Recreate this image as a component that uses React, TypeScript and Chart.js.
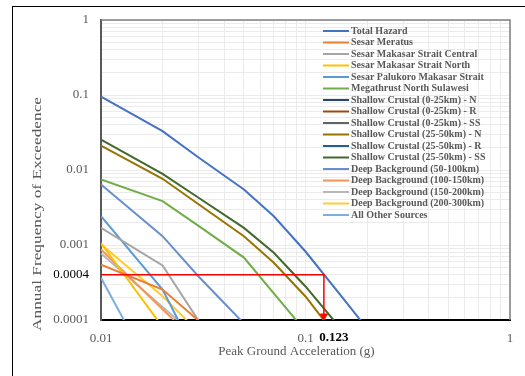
import React, { useEffect, useRef } from "react";
import { Chart, registerables } from "chart.js";

Chart.register(...registerables);

// ---- Data ----
const PGA = [0.01, 0.02, 0.03, 0.05, 0.07, 0.1, 0.15, 0.2];

const SERIES_NAMES = [
  "Total Hazard",
  "Sesar Meratus",
  "Sesar Makasar Strait Central",
  "Sesar Makasar Strait North",
  "Sesar Palukoro Makasar Strait",
  "Megathrust North Sulawesi",
  "Shallow Crustal (0-25km) - N",
  "Shallow Crustal (0-25km) - R",
  "Shallow Crustal (0-25km) - SS",
  "Shallow Crustal (25-50km) - N",
  "Shallow Crustal (25-50km) - R",
  "Shallow Crustal (25-50km) - SS",
  "Deep Background (50-100km)",
  "Deep Background (100-150km)",
  "Deep Background (150-200km)",
  "Deep Background (200-300km)",
  "All Other Sources",
];

const SERIES_COLORS = [
  "#4472C4", "#ED7D31", "#A5A5A5", "#FFC000", "#5B9BD5", "#70AD47",
  "#264478", "#9E480E", "#636363", "#997300", "#255E91", "#43682B",
  "#698ED0", "#F1975A", "#B7B7B7", "#FFCD33", "#7CAFDD",
];

const totalHazard = [0.0955, 0.0329, 0.0147, 0.0055, 0.00242, 0.000819, 0.000206, 0.000077];
const sesarMeratus = [0.000545, 0.000255, 0.000098, 0.000015];
const makasarCentral = [0.00169, 0.000533, 0.000098, 0.000012];
const makasarNorth = [0.00106, 0.0000807, 0.00001];
const palukoro = [0.00242, 0.000255, 0.0000293];
const megathrust = [0.00747, 0.00384, 0.0018, 0.00068, 0.000226, 0.0000707];
const shallow0to25N = [0.00008, 0.00002];
const shallow0to25R = [0.00007, 0.00002];
const shallow0to25SS = [0.00006, 0.00001];
const shallow25to50N = [0.0212, 0.00764, 0.0035, 0.00131, 0.00058, 0.000206, 0.0000492];
const shallow25to50R = [0.00005, 0.00001];
const shallow25to50SS = [0.0255, 0.0089, 0.00427, 0.00169, 0.000787, 0.00028, 0.0000747];
const deep50to100 = [0.00641, 0.00131, 0.00038, 0.0000898];
const deep100to150 = [0.000871, 0.000139, 0.0000475];
const deep150to200 = [0.00077, 0.000149, 0.0000569];
const deep200to300 = [0.00102, 0.000207, 0.0000692];
const allOtherSources = [0.000365, 0.0000112];

const SERIES_VALUES = [
  totalHazard, sesarMeratus, makasarCentral, makasarNorth, palukoro, megathrust,
  shallow0to25N, shallow0to25R, shallow0to25SS, shallow25to50N, shallow25to50R,
  shallow25to50SS, deep50to100, deep100to150, deep150to200, deep200to300, allOtherSources,
];

const X_TICK_LABELS = [0.01, 0.1, 1];
const Y_TICK_LABELS = [1, 0.1, 0.01, 0.001, 0.0004, 0.0001];
const DESIGN_PGA = 0.123;
const DESIGN_AFE = 0.0004;
const AXIS_MIN_AFE = 0.0001;
const AXIS_MAX_AFE = 1;
const AXIS_MIN_PGA = 0.01;
const AXIS_MAX_PGA = 1;
const ARROW_AFE = 0.000113;

const X_TITLE = "Peak Ground Acceleration (g)";
const Y_TITLE = "Annual Frequency of Exceedence";

const SERIF = '"Liberation Serif", "Times New Roman", serif';
const GRAY_TEXT = "#595959";
const GRID = "#EBEBEB";

function logTicks(minExp: number, maxExp: number, extra: number[]) {
  const vals: number[] = [];
  for (let e = minExp; e < maxExp; e++) {
    for (let m = 1; m <= 9; m++) vals.push(Number((m * Math.pow(10, e)).toPrecision(3)));
  }
  vals.push(Math.pow(10, maxExp));
  extra.forEach((v) => vals.push(v));
  vals.sort((a, b) => a - b);
  return vals.map((v) => ({ value: v }));
}

const framePlugin = {
  id: "frameAndTitles",
  beforeDraw(chart: any) {
    const ctx = chart.ctx;
    ctx.save();
    ctx.fillStyle = "#ffffff";
    ctx.fillRect(0, 0, chart.width, chart.height);
    ctx.strokeStyle = "#000000";
    ctx.lineWidth = 1;
    ctx.strokeRect(12.5, 6.5, 560, 420);
    ctx.restore();
  },
  afterDraw(chart: any) {
    const ctx = chart.ctx;
    const a = chart.chartArea;
    const xs = chart.scales.x;
    ctx.save();
    // top and right plot borders
    ctx.strokeStyle = "#808080";
    ctx.lineWidth = 1.5;
    ctx.beginPath();
    ctx.moveTo(a.left, a.top);
    ctx.lineTo(a.right, a.top);
    ctx.lineTo(a.right, a.bottom);
    ctx.stroke();

    // design PGA label
    ctx.fillStyle = "#000000";
    ctx.font = "bold 13px " + SERIF;
    ctx.textAlign = "center";
    ctx.textBaseline = "middle";
    ctx.fillText(String(DESIGN_PGA), xs.getPixelForValue(DESIGN_PGA) + 10, a.bottom + 18);

    // x title
    ctx.fillStyle = GRAY_TEXT;
    ctx.font = "13px " + SERIF;
    ctx.fillText(X_TITLE, (a.left + a.right) / 2 - 9, a.bottom + 32);

    // y title (rotated)
    ctx.font = "13px " + SERIF;
    const w = ctx.measureText(Y_TITLE).width;
    ctx.translate(38, 214);
    ctx.rotate(-Math.PI / 2);
    ctx.scale(234 / w, 1);
    ctx.fillText(Y_TITLE, 0, 0);
    ctx.restore();

    // legend
    ctx.save();
    ctx.font = "bold 10px " + SERIF;
    ctx.textAlign = "left";
    ctx.textBaseline = "middle";
    const x0 = a.right - 187;
    let y = a.top + 11;
    chart.data.datasets.forEach((ds: any) => {
      if (ds.legendHide) return;
      ctx.strokeStyle = ds.borderColor;
      ctx.lineWidth = 2;
      ctx.beginPath();
      ctx.moveTo(x0, y);
      ctx.lineTo(x0 + 26, y);
      ctx.stroke();
      ctx.fillStyle = GRAY_TEXT;
      ctx.fillText(ds.label, x0 + 28, y);
      y += 11.5;
    });
    ctx.restore();
  },
};

export default function App() {
  const ref = useRef<HTMLCanvasElement>(null);

  useEffect(() => {
    const seriesSets = SERIES_NAMES.map((name, i) => ({
      label: name,
      data: SERIES_VALUES[i].map((v, j) => ({ x: PGA[j], y: v })),
      borderColor: SERIES_COLORS[i],
      backgroundColor: SERIES_COLORS[i],
      borderWidth: 2,
      pointRadius: 0,
      tension: 0,
    }));

    const designLine = {
      label: "design",
      legendHide: true,
      data: [
        { x: AXIS_MIN_PGA, y: DESIGN_AFE },
        { x: DESIGN_PGA, y: DESIGN_AFE },
        { x: DESIGN_PGA, y: AXIS_MIN_AFE },
      ],
      borderColor: "#FF0000",
      backgroundColor: "#FF0000",
      borderWidth: 1.5,
      pointRadius: 0,
    };
    const designArrow = {
      label: "arrow",
      legendHide: true,
      data: [{ x: DESIGN_PGA, y: ARROW_AFE }],
      showLine: false,
      pointStyle: "triangle",
      rotation: 180,
      pointRadius: 4,
      borderColor: "#FF0000",
      backgroundColor: "#FF0000",
      borderWidth: 1,
      clip: false,
    };

    const chart = new Chart(ref.current as HTMLCanvasElement, {
      type: "line",
      data: { datasets: [designArrow, designLine, ...seriesSets] as any },
      options: {
        responsive: false,
        animation: false,
        devicePixelRatio: 1,
        layout: { padding: { left: 0, right: 15, top: 20, bottom: 0 } },
        plugins: { legend: { display: false }, tooltip: { enabled: false } },
        scales: {
          x: {
            type: "logarithmic",
            min: AXIS_MIN_PGA,
            max: AXIS_MAX_PGA,
            afterFit: (s: any) => { s.height = 56; },
            afterBuildTicks: (s: any) => { s.ticks = logTicks(-2, 0, [DESIGN_PGA]); },
            border: { display: true, color: "#000000", width: 2 },
            grid: {
              drawTicks: false,
              color: (c: any) => (c.tick && c.tick.value === DESIGN_PGA ? "rgba(0,0,0,0)" : GRID),
              lineWidth: 1,
            },
            ticks: {
              autoSkip: false,
              maxRotation: 0,
              padding: 11,
              color: GRAY_TEXT,
              font: { family: SERIF, size: 13 },
              callback: (v: any) => (X_TICK_LABELS.includes(Number(v)) ? String(v) : ""),
            },
          },
          y: {
            type: "logarithmic",
            min: AXIS_MIN_AFE,
            max: AXIS_MAX_AFE,
            afterFit: (s: any) => { s.width = 101; },
            afterBuildTicks: (s: any) => { s.ticks = logTicks(-4, 0, []); },
            border: { display: true, color: "#595959", width: 2 },
            grid: { drawTicks: false, color: GRID, lineWidth: 1 },
            ticks: {
              autoSkip: false,
              padding: 12,
              color: (c: any) => (c.tick && c.tick.value === DESIGN_AFE ? "#000000" : GRAY_TEXT),
              font: { family: SERIF, size: 13 },
              callback: (v: any) => (Y_TICK_LABELS.includes(Number(v)) ? String(v) : ""),
            },
          },
        },
      } as any,
      plugins: [framePlugin],
    });
    return () => chart.destroy();
  }, []);

  return (
    <div style={{ position: "fixed", left: 0, top: 0, width: 525, height: 376, background: "#ffffff" }}>
      <canvas ref={ref} width={525} height={376} style={{ display: "block", width: 525, height: 376 }} />
    </div>
  );
}
